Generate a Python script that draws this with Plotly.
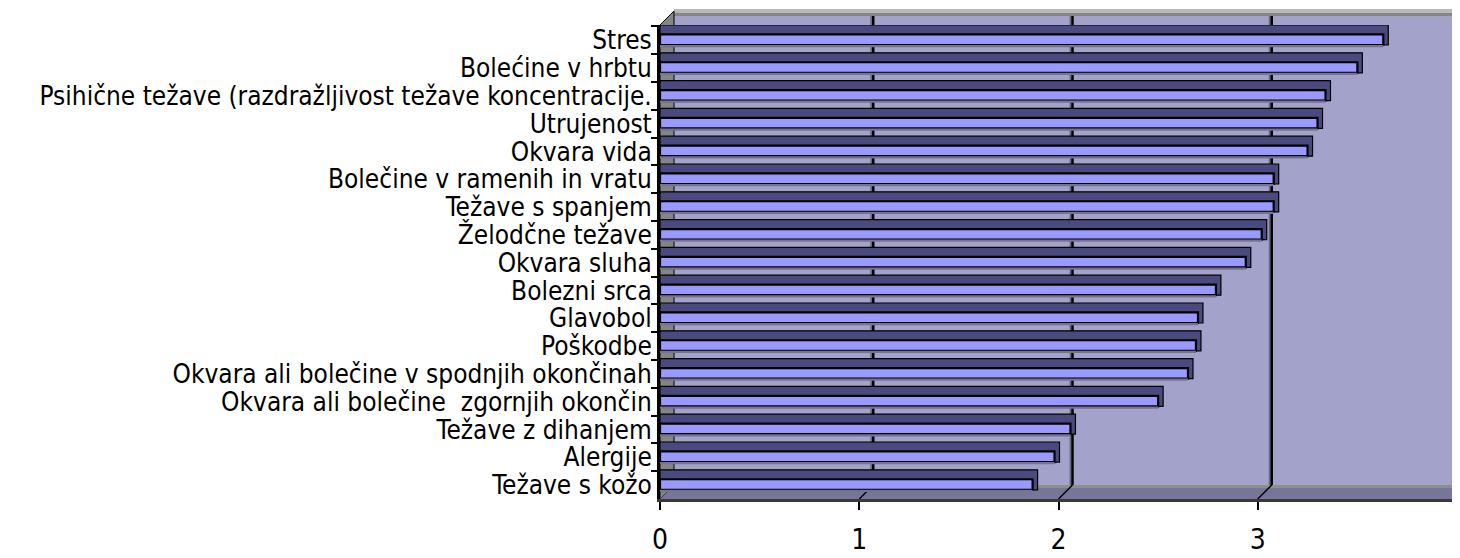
import plotly.graph_objects as go

categories = [
    "Stres",
    "Bolećine v hrbtu",
    "Psihične težave (razdražljivost težave koncentracije.",
    "Utrujenost",
    "Okvara vida",
    "Bolečine v ramenih in vratu",
    "Težave s spanjem",
    "Želodčne težave",
    "Okvara sluha",
    "Bolezni srca",
    "Glavobol",
    "Poškodbe",
    "Okvara ali bolečine v spodnjih okončinah",
    "Okvara ali bolečine  zgornjih okončin",
    "Težave z dihanjem",
    "Alergije",
    "Težave s kožo",
]
values = [3.63, 3.50, 3.34, 3.30, 3.25, 3.08, 3.08, 3.02, 2.94, 2.79,
          2.70, 2.69, 2.65, 2.50, 2.06, 1.98, 1.87]
x_ticks = [0, 1, 2, 3, 4]
grid_values = [1, 2, 3]

OFF = 8                     # page body margin
W, H = 1460 - OFF, 558 - OFF
# plot area in page pixels
PL, PR, PT, PB = 660, 1457, 25, 499
L, R, T, B = PL - OFF, W - (PR - OFF), PT - OFF, H - (PB - OFF)
PW, PH = PR - PL, PB - PT
DEPTH = 14      # 3D depth in pixels
END = 0.025     # visible bar end face in value units

FONT = "DejaVu Sans Condensed, Liberation Sans Narrow, Arial Narrow, sans-serif"


def px(x):
    """page pixel x -> paper fraction"""
    return (x - PL) / PW


def py(y):
    """page pixel y -> paper fraction"""
    return (PB - y) / PH


fig = go.Figure()

# dark body (top face + end face)
fig.add_trace(go.Bar(
    y=categories, x=[v + END for v in values], orientation="h",
    offset=-0.55, width=0.72,
    marker=dict(color="#4a4a7e", line=dict(color="#000000", width=1.2)),
    hoverinfo="skip", showlegend=False,
))
# front face
fig.add_trace(go.Bar(
    y=categories, x=values, orientation="h",
    offset=-0.21, width=0.38,
    marker=dict(color="#9999ff", line=dict(color="#000000", width=2.2)),
    showlegend=False,
))
# shadow under bar
fig.add_trace(go.Bar(
    y=categories, x=values, orientation="h",
    offset=0.17, width=0.08,
    marker=dict(color="#74748f", line=dict(width=0)),
    hoverinfo="skip", showlegend=False,
))

shapes = []
# back wall
shapes.append(dict(type="rect", xref="paper", yref="paper", layer="below",
                   x0=px(PL + DEPTH), x1=px(1500), y0=py(PB - DEPTH), y1=py(16),
                   fillcolor="#a2a2ca", line=dict(width=0)))
# top edge of wall
shapes.append(dict(type="rect", xref="paper", yref="paper", layer="below",
                   x0=px(PL + DEPTH), x1=px(1500), y0=py(13), y1=py(9),
                   fillcolor="#b9b9b9", line=dict(width=0)))
shapes.append(dict(type="rect", xref="paper", yref="paper", layer="below",
                   x0=px(PL + DEPTH), x1=px(1500), y0=py(16), y1=py(13),
                   fillcolor="#868686", line=dict(width=0)))
# left wall
lw = "M {a},{b} L {c},{d} L {c},{e} L {a},{f} Z".format(
    a=px(PL), b=py(PT), c=px(PL + DEPTH), d=py(PT - DEPTH),
    e=py(PB - DEPTH), f=py(PB))
shapes.append(dict(type="path", xref="paper", yref="paper", layer="below",
                   path=lw, fillcolor="#858585", line=dict(color="#000000", width=1)))
# floor
fl = "M {a},{b} L {c},{d} L {e},{d} L {g},{b} Z".format(
    a=px(PL), b=py(PB), c=px(PL + DEPTH), d=py(PB - DEPTH),
    e=px(1500), g=px(1500 - DEPTH))
shapes.append(dict(type="path", xref="paper", yref="paper", layer="below",
                   path=fl, fillcolor="#76769a", line=dict(width=0)))
shapes.append(dict(type="rect", xref="paper", yref="paper", layer="below",
                   x0=px(PL + DEPTH), x1=px(1500), y0=py(PB - DEPTH + 3), y1=py(PB - DEPTH),
                   fillcolor="#8e8e8e", line=dict(width=0)))
# back-wall gridlines
for g in grid_values:
    shapes.append(dict(type="line", xref="x", yref="paper", layer="below",
                       xsizemode="pixel", xanchor=g, x0=DEPTH - 2, x1=DEPTH - 2,
                       y0=py(PB - DEPTH), y1=py(16),
                       line=dict(color="#6a6a88", width=2)))
    shapes.append(dict(type="line", xref="x", yref="paper", layer="below",
                       xsizemode="pixel", xanchor=g, x0=DEPTH, x1=DEPTH,
                       y0=py(PB - DEPTH), y1=py(16),
                       line=dict(color="#000000", width=2.5)))
    shapes.append(dict(type="line", xref="x", yref="paper", layer="below",
                       xsizemode="pixel", xanchor=g, x0=DEPTH, x1=0,
                       y0=py(PB - DEPTH), y1=py(PB),
                       line=dict(color="#000000", width=1.5)))

fig.update_layout(
    width=W, height=H,
    margin=dict(l=L, r=R, t=T, b=B, pad=0, autoexpand=False),
    paper_bgcolor="#ffffff",
    plot_bgcolor="rgba(0,0,0,0)",
    barmode="overlay",
    showlegend=False,
    shapes=shapes,
    font=dict(family=FONT, color="#000000"),
)
fig.update_xaxes(
    automargin=False,
    range=[0, 4], tickmode="array", tickvals=x_ticks, ticktext=[str(t) for t in x_ticks],
    showgrid=False, zeroline=False,
    showline=True, linecolor="#3a3a3a", linewidth=3,
    ticks="outside", ticklen=8, tickwidth=2, tickcolor="#000000",
    tickfont=dict(family=FONT, size=28, color="#000000"),
    ticklabelstandoff=5,
)
fig.update_yaxes(
    automargin=False,
    type="category", autorange="reversed",
    tickmode="linear", tick0=0, dtick=1,
    showgrid=False, zeroline=False,
    showline=True, linecolor="#000000", linewidth=3,
    ticks="outside", ticklen=6, tickwidth=2, tickcolor="#000000",
    tickson="boundaries",
    tickfont=dict(family=FONT, size=26, color="#000000"),
)

fig.write_html("out.html")
